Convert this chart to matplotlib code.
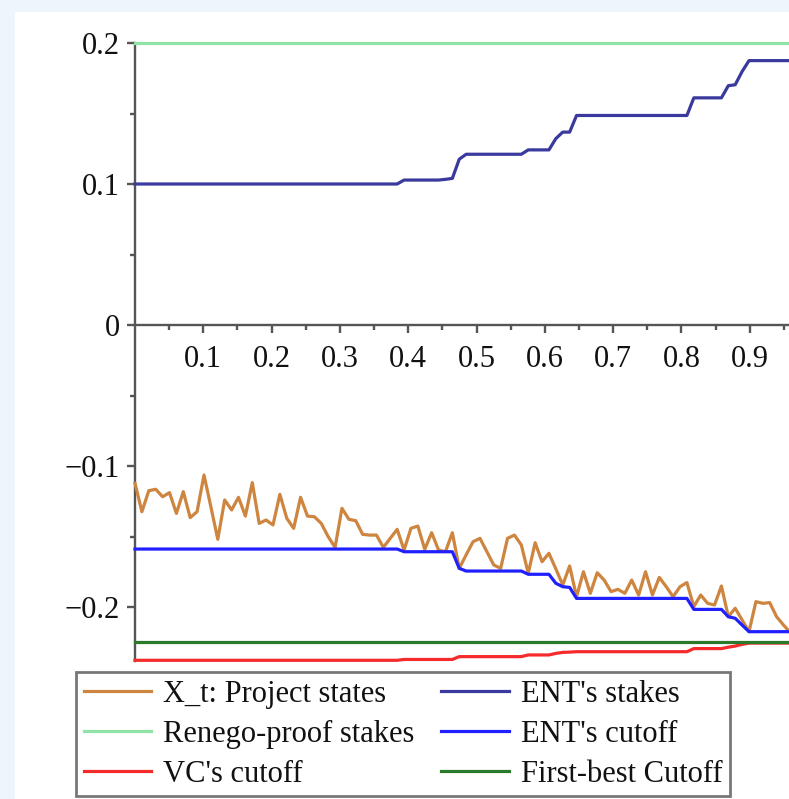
import numpy as np
import matplotlib
matplotlib.use("Agg")
import matplotlib.pyplot as plt
from matplotlib.patches import Rectangle

# ---------------- data ----------------
project_states = [
    -0.1123, -0.1324, -0.1175, -0.1165, -0.1218, -0.1189, -0.1336, -0.1182, -0.1366, -0.1324,
    -0.1064, -0.1290, -0.1520, -0.1241, -0.1312, -0.1222, -0.1355, -0.1118, -0.1407, -0.1383,
    -0.1418, -0.1201, -0.1371, -0.1442, -0.1222, -0.1355, -0.1360, -0.1407, -0.1501, -0.1577,
    -0.1300, -0.1378, -0.1388, -0.1485, -0.1490, -0.1490, -0.1577, -0.1513, -0.1449, -0.1596,
    -0.1442, -0.1426, -0.1591, -0.1473, -0.1596, -0.1608, -0.1473, -0.1726, -0.1630, -0.1537,
    -0.1513, -0.1607, -0.1702, -0.1726, -0.1513, -0.1490, -0.1560, -0.1761, -0.1544, -0.1679,
    -0.1619, -0.1730, -0.1844, -0.1709, -0.1927, -0.1750, -0.1903, -0.1757, -0.1809, -0.1891,
    -0.1875, -0.1903, -0.1809, -0.1915, -0.1750, -0.1915, -0.1790, -0.1856, -0.1927, -0.1856,
    -0.1827, -0.1998, -0.1915, -0.1974, -0.1986, -0.1851, -0.2069, -0.2009, -0.2092, -0.2175,
    -0.1962, -0.1974, -0.1969, -0.2069, -0.2128, -0.2182, -0.2220,
]

ent_stakes = ([0.1000] * 39 + [0.1028] * 6 + [0.1033, 0.1040, 0.1176] + [0.1211] * 9
              + [0.1242] * 4 + [0.1322, 0.1368, 0.1368] + [0.1486] * 17 + [0.1611] * 5
              + [0.1697, 0.1704, 0.1798] + [0.1875] * 8)

ent_cutoff = ([-0.1589] * 39 + [-0.1608] * 8 + [-0.1726] + [-0.1745] * 9 + [-0.1768] * 4
              + [-0.1832, -0.1856, -0.1861] + [-0.1939] * 17 + [-0.2017] * 5
              + [-0.2069, -0.2080, -0.2128] + [-0.2175] * 8)

vc_cutoff = ([-0.2378] * 39 + [-0.2372] * 8 + [-0.2352] * 10 + [-0.2340] * 4
             + [-0.2329, -0.2322, -0.2320] + [-0.2317] * 17 + [-0.2295] * 5
             + [-0.2285, -0.2277, -0.2265] + [-0.2256] * 8)

renego_stakes = 0.2
first_best_cutoff = -0.2245

labels = ["X_t: Project states", "Renego-proof stakes", "VC's cutoff",
          "ENT's stakes", "ENT's cutoff", "First-best Cutoff"]
x_ticks = [0.1, 0.2, 0.3, 0.4, 0.5, 0.6, 0.7, 0.8, 0.9]
x_tick_labels = ["0.1", "0.2", "0.3", "0.4", "0.5", "0.6", "0.7", "0.8", "0.9"]
y_ticks = [-0.2, -0.1, 0.0, 0.1, 0.2]
y_tick_labels = ["\u22120.2", "\u22120.1", "0", "0.1", "0.2"]

n = len(project_states)
t = np.arange(n) / 99.0

# ---------------- figure ----------------
W, H = 789, 799
fig = plt.figure(figsize=(W / 100, H / 100), dpi=100)
fig.patch.set_facecolor("#eef5fd")
fig.add_artist(Rectangle((15 / W, 0), 1 - 15 / W, 1 - 12 / H, transform=fig.transFigure,
                         facecolor="white", edgecolor="none", zorder=0))

left, right, top, bottom = 135, 789, 43, 661
ax = fig.add_axes([left / W, 1 - bottom / H, (right - left) / W, (bottom - top) / H])
ax.set_facecolor("none")

font = "Liberation Serif"
fs = 22
lw = 2.3

c_x = "#cd853f"
c_ren = "#90e4a8"
c_vc = "#f52a2a"
c_ents = "#3a3a9e"
c_entc = "#1f1fff"
c_fb = "#2a7a2a"

h1, = ax.plot(t, project_states, color=c_x, lw=lw, clip_on=False, zorder=3)
h2, = ax.plot(t, np.full(n, renego_stakes), color=c_ren, lw=lw, clip_on=False, zorder=3)
h3, = ax.plot(t, vc_cutoff, color=c_vc, lw=lw, clip_on=False, zorder=3)
h4, = ax.plot(t, ent_stakes, color=c_ents, lw=lw, clip_on=False, zorder=3)
h5, = ax.plot(t, ent_cutoff, color=c_entc, lw=lw, clip_on=False, zorder=3)
h6, = ax.plot(t, np.full(n, first_best_cutoff), color=c_fb, lw=lw, clip_on=False, zorder=3)

ax.set_xlim(0, (right - left) / 683.0)
ax.set_ylim(-(bottom - 325) / 1410.0, 0.2)

for s in ["top", "right"]:
    ax.spines[s].set_visible(False)
ax.spines["left"].set_position(("data", 0))
ax.spines["bottom"].set_position(("data", 0))
for s in ["left", "bottom"]:
    ax.spines[s].set_color("#555555")
    ax.spines[s].set_linewidth(1.7)
    ax.spines[s].set_zorder(2)

ax.set_xticks(x_ticks)
ax.set_xticklabels(x_tick_labels, fontfamily=font, fontsize=fs)
ax.set_xticks([0.05, 0.15, 0.25, 0.35, 0.45, 0.55, 0.65, 0.75, 0.85, 0.95], minor=True)
ax.set_yticks(y_ticks)
ax.set_yticklabels(y_tick_labels, fontfamily=font, fontsize=fs)
ax.set_yticks([-0.15, -0.05, 0.05, 0.15], minor=True)
ax.tick_params(which="major", direction="out", length=6, width=1.7, color="#555555",
               labelcolor="#111111")
ax.tick_params(axis="x", which="major", pad=8.5)
ax.tick_params(axis="y", which="major", pad=5)
ax.tick_params(which="minor", direction="out", length=3.5, width=1.7, color="#555555")

leg = fig.legend([h1, h2, h3, h4, h5, h6], labels, ncol=2, loc="upper left",
                 bbox_to_anchor=(76 / W, 1 - 672 / H),
                 prop={"family": font, "size": fs}, frameon=True, fancybox=False,
                 handlelength=2.2, handletextpad=0.4, columnspacing=0.88,
                 labelspacing=0.36, borderpad=0.25, borderaxespad=0)
leg.get_frame().set_edgecolor("#555555")
leg.get_frame().set_linewidth(2.0)
for txt in leg.get_texts():
    txt.set_color("#111111")

fig.savefig("out.png", dpi=100, facecolor=fig.get_facecolor())
